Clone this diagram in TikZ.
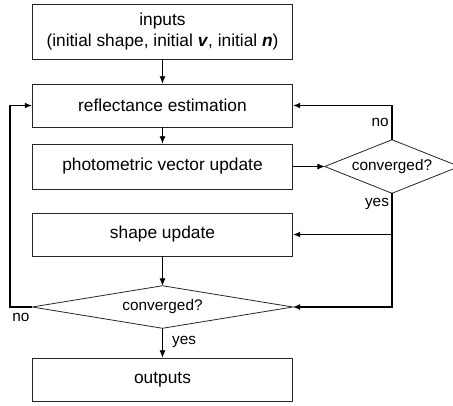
\documentclass[tikz,border=0pt]{standalone}
\usepackage{fontspec}
\setmainfont{Liberation Sans}
\usetikzlibrary{arrows.meta}
\begin{document}
\begin{tikzpicture}[x=0.75pt,y=-0.75pt,
  box/.style={draw=black!85,line width=0.6pt,rectangle,inner sep=0pt,minimum width=195pt,minimum height=32.25pt,font=\fontsize{13}{15.5}\selectfont,align=center},
  decision/.style={rectangle,inner sep=0pt,font=\fontsize{11.5}{13}\selectfont},
  dshape/.style={draw=black!85,line width=0.6pt,line join=miter},
  arr/.style={line width=0.6pt,-{Latex[length=5.5pt,width=4.5pt]}},
  looparr/.style={line width=1.1pt,-{Latex[length=5.5pt,width=4.5pt]}},
  lbl/.style={font=\fontsize{11.5}{13}\selectfont,inner sep=0pt}]
\useasboundingbox (0,0) rectangle (453,405);
\clip (0,0) rectangle (453,405);
\node[box,minimum height=41.25pt] (in) at (162.5,31.5) {inputs\\(initial shape, initial \textbf{\textit{v}}, initial \textbf{\textit{n}})};
\node[box] (re) at (162.5,105.5) {reflectance estimation};
\node[box,minimum height=33.75pt] (ph) at (162.5,166.5) {photometric vector update};
\node[box] (sh) at (162.5,234.5) {shape update};
\node[decision,minimum width=195pt,minimum height=31.5pt] (d2) at (162.5,307) {converged?};
\node[box] (out) at (162.5,379.5) {outputs};
\node[decision,minimum width=100.5pt,minimum height=39.75pt] (d1) at (392,166.5) {converged?};
\draw[dshape] (d2.north) -- (d2.east) -- (d2.south) -- (d2.west) -- cycle;
\draw[dshape] (d1.north) -- (d1.east) -- (d1.south) -- (d1.west) -- cycle;
\coordinate (lb) at (10,307);
\coordinate (lt) at (10,105.5);
\draw[arr] (in) -- (re);
\draw[arr] (re) -- (ph);
\draw[arr] (ph) -- (d1.west);
\draw[arr] (sh) -- (d2.north);
\draw[arr] (d2.south) -- node[lbl,right=7pt,pos=0.45] {yes} (out);
\draw[looparr] (d1.north) -- node[lbl,left=2pt,pos=0.5] {no} (d1.north |- re.east) -- (re.east);
\draw[looparr] (d1.south) -- (d1.south |- d2.east) -- (d2.east);
\draw[looparr] (d1.south |- sh.east) -- (sh.east);
\node[lbl] (yes1) at (377,204) {yes};
\draw[looparr] (d2.west) -- (lb) -- (lt) -- (re.west);
\node[lbl] (no2) at (21,317) {no};
\end{tikzpicture}
\end{document}
